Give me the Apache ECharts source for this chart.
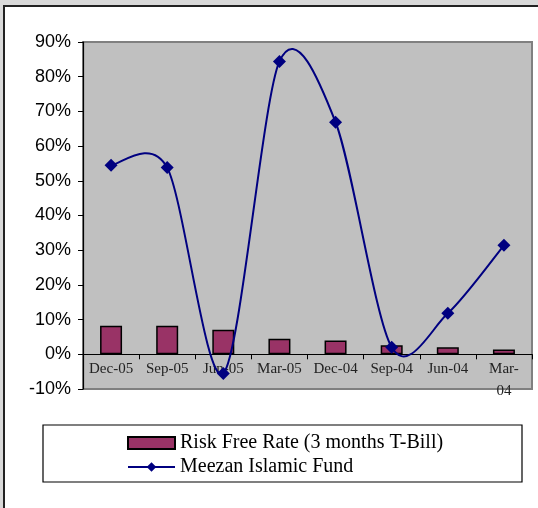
<!DOCTYPE html>
<html>
<head>
<meta charset="utf-8">
<script src="https://cdn.jsdelivr.net/npm/echarts@6/dist/echarts.min.js"></script>
<style>
html,body{margin:0;padding:0;background:#d9d9d9;}
#c{width:538px;height:508px;}
</style>
</head>
<body>
<div id="c"></div>
<script>
const categories = ['Dec-05','Sep-05','Jun-05','Mar-05','Dec-04','Sep-04','Jun-04','Mar-04'];
const riskFree = [8.2, 8.2, 7.1, 4.5, 4.0, 2.6, 2.0, 1.4];
const meezan = [54.5, 53.8, -5.5, 84.4, 66.9, 2.0, 11.8, 31.4];
const yTicks = [-10, 0, 10, 20, 30, 40, 50, 60, 70, 80, 90];

const TENSION = 0.15;

function smoothPath(api) {
  const pts = meezan.map((v, i) => api.coord([i, v]));
  let d = 'M' + pts[0][0] + ' ' + pts[0][1];
  for (let i = 0; i < pts.length - 1; i++) {
    const p0 = pts[Math.max(i - 1, 0)], p1 = pts[i], p2 = pts[i + 1], p3 = pts[Math.min(i + 2, pts.length - 1)];
    const c1x = p1[0] + (p2[0] - p0[0]) * TENSION, c1y = p1[1] + (p2[1] - p0[1]) * TENSION;
    const c2x = p2[0] - (p3[0] - p1[0]) * TENSION, c2y = p2[1] - (p3[1] - p1[1]) * TENSION;
    d += ' C' + c1x + ' ' + c1y + ' ' + c2x + ' ' + c2y + ' ' + p2[0] + ' ' + p2[1];
  }
  return d;
}

const chart = echarts.init(document.getElementById('c'));
chart.setOption({
  backgroundColor: 'transparent',
  animation: false,
  graphic: [
    {type:'rect', z:-10, silent:true, shape:{x:4, y:6, width:540, height:510},
     style:{fill:'#ffffff', stroke:'#222222', lineWidth:2}},
    {type:'rect', z:-5, silent:true, shape:{x:43, y:425, width:479, height:57},
     style:{fill:'#ffffff', stroke:'#000000', lineWidth:1.2}}
  ],
  grid: {left:83, top:42, right:6, bottom:119, show:true, backgroundColor:'#c0c0c0',
         borderColor:'#808080', borderWidth:2, containLabel:false},
  legend: {
    orient:'vertical', left:122, top:428, itemGap:4, itemWidth:47, itemHeight:12,
    textStyle:{fontFamily:'Liberation Serif', fontSize:20, color:'#000', lineHeight:20},
    data:[
      {name:'Risk Free Rate (3 months T-Bill)', icon:'rect'},
      {name:'Meezan Islamic Fund', lineStyle:{color:'#000080', width:2, opacity:1}}
    ]
  },
  xAxis: {
    type:'category', data:categories,
    offset:-34.7,
    axisLine:{onZero:false, lineStyle:{color:'#000', width:1.2}},
    axisTick:{show:true, length:5, lineStyle:{color:'#000'}},
    axisLabel:{fontFamily:'Liberation Serif', fontSize:15, color:'#222', margin:4, interval:0,
      formatter: v => v === 'Mar-04' ? 'Mar-\n04' : v, lineHeight:22}
  },
  yAxis: {
    type:'value', min:yTicks[0], max:yTicks[yTicks.length-1], interval:10,
    splitLine:{show:false},
    axisLine:{show:true, lineStyle:{color:'#000', width:1.2}},
    axisTick:{show:true, length:5, lineStyle:{color:'#000'}},
    axisLabel:{fontFamily:'Liberation Sans', fontSize:18, color:'#000', margin:12,
      formatter: v => v + '%'}
  },
  series: [
    {name:'Risk Free Rate (3 months T-Bill)', type:'bar', data:riskFree, barWidth:22,
     itemStyle:{color:'#993366', borderColor:'#000', borderWidth:1.5}},
    {name:'curve', type:'custom', z:3, silent:true,
     data: meezan.map((v, i) => [i, v]),
     renderItem: (params, api) => {
       if (params.dataIndex !== 0) return null;
       return {type:'path', shape:{pathData: smoothPath(api)},
               style:{stroke:'#000080', lineWidth:2, fill:'none'}};
     }},
    {name:'Meezan Islamic Fund', type:'line', data:meezan, z:4,
     symbol:'diamond', symbolSize:13,
     lineStyle:{color:'#000080', width:2, opacity:0}, itemStyle:{color:'#000080'}}
  ]
});
</script>
</body>
</html>
